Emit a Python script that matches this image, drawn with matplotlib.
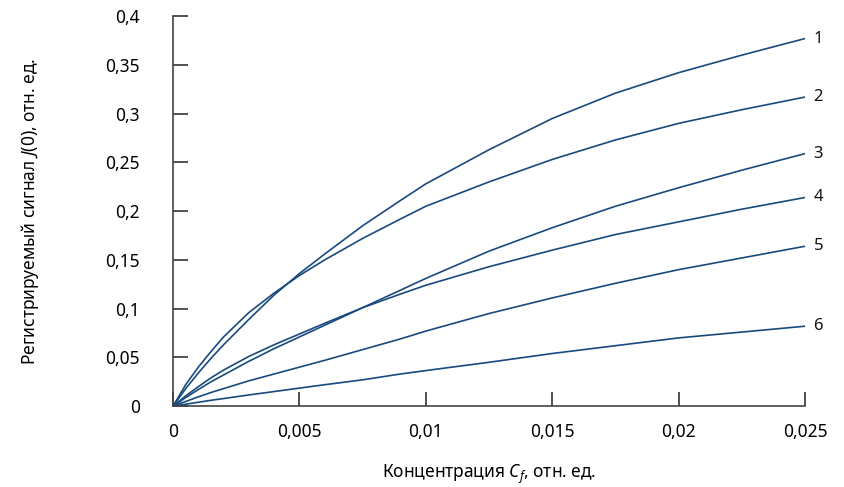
import numpy as np
import matplotlib
matplotlib.use("Agg")
import matplotlib.pyplot as plt
from matplotlib.ticker import FuncFormatter

plt.rcParams['font.family'] = ['Noto Sans', 'DejaVu Sans']
plt.rcParams['mathtext.fontset'] = 'custom'
plt.rcParams['mathtext.rm'] = 'Noto Sans'
plt.rcParams['mathtext.it'] = 'Noto Sans:italic'

# concentration C_f, rel. units
conc = [0, 0.0005, 0.001, 0.0015, 0.002, 0.003, 0.004, 0.005, 0.006, 0.0075, 0.009,
        0.01, 0.0125, 0.015, 0.0175, 0.02, 0.0225, 0.025]

# registered signal J(0) for curves 1..6
curve1 = [0, 0.018, 0.034, 0.049, 0.063, 0.089, 0.114, 0.136, 0.156, 0.185, 0.211,
          0.228, 0.263, 0.295, 0.321, 0.342, 0.360, 0.377]
curve2 = [0, 0.022, 0.040, 0.056, 0.071, 0.096, 0.116, 0.134, 0.150, 0.172, 0.192,
          0.205, 0.230, 0.253, 0.273, 0.290, 0.304, 0.317]
curve3 = [0, 0.0088, 0.017, 0.025, 0.032, 0.046, 0.059, 0.071, 0.083, 0.101, 0.119,
          0.131, 0.159, 0.183, 0.205, 0.224, 0.242, 0.259]
curve4 = [0, 0.0105, 0.020, 0.029, 0.037, 0.051, 0.063, 0.074, 0.085, 0.101, 0.115,
          0.124, 0.143, 0.160, 0.176, 0.189, 0.202, 0.214]
curve5 = [0, 0.0048, 0.0095, 0.014, 0.018, 0.026, 0.033, 0.040, 0.047, 0.058, 0.069,
          0.077, 0.095, 0.111, 0.126, 0.140, 0.152, 0.164]
curve6 = [0, 0.002, 0.004, 0.006, 0.0078, 0.0115, 0.015, 0.0185, 0.022, 0.027, 0.033,
          0.0365, 0.045, 0.054, 0.062, 0.070, 0.076, 0.082]

curves = [curve1, curve2, curve3, curve4, curve5, curve6]
names = ["1", "2", "3", "4", "5", "6"]

x_ticks = [0, 0.005, 0.01, 0.015, 0.02, 0.025]
y_ticks = [0, 0.05, 0.1, 0.15, 0.2, 0.25, 0.3, 0.35, 0.4]

line_color = "#184a7e"

fig = plt.figure(figsize=(8.44, 4.87), dpi=100)
ax = fig.add_axes([0.205, 0.166, 0.749, 0.801])

for ys, name in zip(curves, names):
    ax.plot(conc, ys, color=line_color, lw=1.2, solid_joinstyle="round")
    ax.annotate(name, xy=(conc[-1], ys[-1]), xytext=(6, 0), textcoords="offset points",
                va="center", ha="left", fontsize=12, color="#111111")

ax.set_xlim(0, 0.025)
ax.set_ylim(0, 0.4)
ax.set_xticks(x_ticks)
ax.set_yticks(y_ticks)

fmt = FuncFormatter(lambda v, p: ("%g" % v).replace(".", ","))
ax.xaxis.set_major_formatter(fmt)
ax.yaxis.set_major_formatter(fmt)

for side in ["top", "right"]:
    ax.spines[side].set_visible(False)
for side in ["left", "bottom"]:
    ax.spines[side].set_color("#444444")
    ax.spines[side].set_linewidth(1.2)

ax.tick_params(axis="y", direction="in", length=11, width=1.2, pad=24, labelsize=12.5, color="#333333")
ax.tick_params(axis="x", direction="in", length=10, width=1.2, pad=12, labelsize=12.5, color="#333333")

ax.set_ylabel(r"Регистрируемый сигнал $\mathit{J(0)}$, отн. ед.", fontsize=12.5, labelpad=46)
ax.set_xlabel(r"Концентрация $\mathit{C_f}$, отн. ед.", fontsize=12.5, labelpad=16)

fig.savefig("out.png", dpi=100)
